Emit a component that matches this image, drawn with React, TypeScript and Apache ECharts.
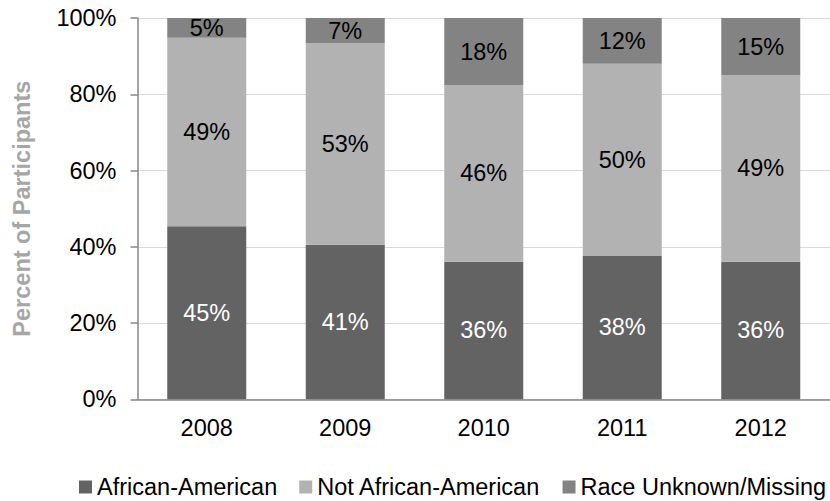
import React, { useEffect, useRef } from "react";
import * as echarts from "echarts";

const years = ["2008", "2009", "2010", "2011", "2012"];
const africanAmerican = [45.4, 40.5, 36.1, 37.7, 36.1];
const notAfricanAmerican = [49.4, 52.9, 46.3, 50.3, 48.9];
const raceUnknown = [5.2, 6.6, 17.6, 12.0, 15.0];
const yTicks = [0, 20, 40, 60, 80, 100];

const FONT = '"Liberation Sans", Arial, sans-serif';
const FS = 23.5;

export default function App() {
  const ref = useRef<HTMLDivElement>(null);
  useEffect(() => {
    if (!ref.current) return;
    const chart = echarts.init(ref.current, null, { renderer: "svg" });
    const labelFmt = (p: any) => Math.round(p.value) + "%";
    const mk = (name: string, data: number[], color: string, labelColor: string) => ({
      name,
      type: "bar",
      stack: "total",
      data,
      barWidth: 79,
      itemStyle: { color },
      label: {
        show: true,
        position: "inside",
        formatter: labelFmt,
        color: labelColor,
        fontSize: FS,
        fontFamily: FONT,
      },
    });
    chart.setOption({
      animation: false,
      backgroundColor: "#ffffff",
      textStyle: { fontFamily: FONT },
      grid: { left: 137.5, right: -4.5, top: 18, bottom: 101.7, containLabel: false },
      legend: {
        left: 79,
        top: 474,
        padding: 0,
        itemWidth: 13,
        itemHeight: 13,
        itemGap: 22,
        icon: "rect",
        textStyle: { fontSize: FS, fontFamily: FONT, color: "#000", lineHeight: 26 },
        data: ["African-American", "Not African-American", "Race Unknown/Missing"],
      },
      xAxis: {
        type: "category",
        data: years,
        axisTick: { show: false },
        axisLine: { show: true, lineStyle: { color: "#868686", width: 1.5 } },
        axisLabel: { color: "#000", fontSize: FS, fontFamily: FONT, margin: 17 },
      },
      yAxis: {
        type: "value",
        min: yTicks[0],
        max: yTicks[yTicks.length - 1],
        interval: 20,
        name: "Percent of Participants",
        nameLocation: "middle",
        nameGap: 104,
        nameTextStyle: { color: "#a6a6a6", fontSize: FS, fontWeight: "bold", fontFamily: FONT },
        axisLine: { show: true, lineStyle: { color: "#868686", width: 1.5 } },
        axisTick: { show: true, length: 7, lineStyle: { color: "#868686", width: 1.5 } },
        splitLine: { show: true, lineStyle: { color: "#d9d9d9", width: 1 } },
        axisLabel: { color: "#000", fontSize: FS, fontFamily: FONT, margin: 21, formatter: "{value}%" },
      },
      series: [
        mk("African-American", africanAmerican, "#636363", "#ffffff"),
        mk("Not African-American", notAfricanAmerican, "#b2b2b2", "#000000"),
        mk("Race Unknown/Missing", raceUnknown, "#838383", "#000000"),
      ],
    });
    return () => chart.dispose();
  }, []);
  return (
    <div
      ref={ref}
      style={{ position: "fixed", left: 0, top: 0, width: 830, height: 501, background: "#fff" }}
    />
  );
}
